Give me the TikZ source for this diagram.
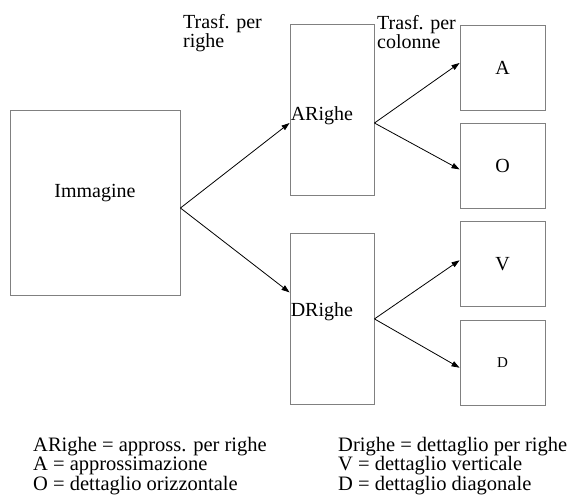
\documentclass[tikz,border=0pt]{standalone}
\usepackage{fontspec}
\setmainfont{Liberation Serif}
\usetikzlibrary{arrows.meta,positioning}
\definecolor{boxGray}{HTML}{808080}

\begin{document}
\begin{tikzpicture}[
  x=1pt, y=-1pt,
  node distance=12pt,
  box/.style={draw=boxGray, line width=0.9pt, inner sep=0pt, font=\fontsize{20}{20}\selectfont},
  img/.style={box, minimum width=170pt, minimum height=185pt},
  rowbox/.style={box, minimum width=84pt, minimum height=171pt},
  sub/.style={box, minimum width=85pt, minimum height=85pt},
  txt/.style={inner sep=0pt, font=\fontsize{20}{20}\selectfont},
  captxt/.style={inner sep=0pt, align=left, font=\fontsize{20}{19}\selectfont},
  leg/.style={inner sep=0pt, align=left, font=\fontsize{20.5}{19.5}\selectfont},
  arr/.style={-{Triangle[length=8pt,width=5.5pt]}, line width=0.8pt}
]
\useasboundingbox (0,0) rectangle (569,501);
% boxes
\node[img, label={[txt, anchor=base, yshift=9.5pt]center:Immagine}] (imm) at (95,202.5) {};
\node[rowbox, label={[txt, anchor=base west, xshift=1pt, yshift=-10pt]west:ARighe}] (ar) at (332,110) {};
\node[rowbox, below=37pt of ar, label={[txt, anchor=base west, xshift=1pt, yshift=2.5pt]west:DRighe}] (dr) {};
\node[sub] (a) at (502.5,68) {A};
\node[sub, below=of a] (o) {O};
\node[sub, below=of o] (v) {V};
\node[sub, below=13pt of v, font=\fontsize{15}{15}\selectfont] (d) {D};
% captions (base = last line)
\node[captxt, anchor=base west] (trrighe) at (183,47) {Trasf. per\\righe};
\node[captxt, anchor=base west] (trcol) at (377,48) {Trasf. per\\colonne};
% arrows
\draw[arr] ([yshift=-5.5pt]imm.east) -- ([yshift=-13pt]ar.west);
\draw[arr] ([yshift=-5.5pt]imm.east) -- ([yshift=26.5pt]dr.west);
\draw[arr] ([yshift=-13pt]ar.east) -- ([yshift=5pt]a.west);
\draw[arr] ([yshift=-13pt]ar.east) -- ([yshift=-3.5pt]o.west);
\draw[arr] (dr.east) -- ([yshift=3.5pt]v.west);
\draw[arr] (dr.east) -- ([yshift=-5pt]d.west);
% legend
\node[leg, anchor=base west] (legl) at (33,490.4) {ARighe = appross. per righe\\A = approssimazione\\O = dettaglio orizzontale};
\node[leg, anchor=base west] (legr) at (338,490.4) {Drighe = dettaglio per righe\\V = dettaglio verticale\\D = dettaglio diagonale};
\end{tikzpicture}
\end{document}
